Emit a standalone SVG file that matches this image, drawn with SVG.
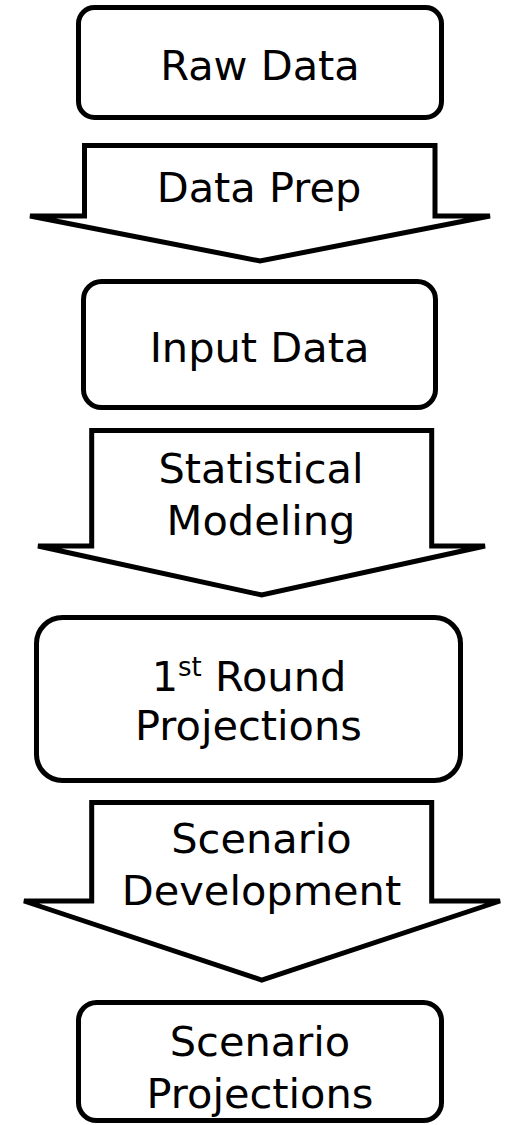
<svg xmlns="http://www.w3.org/2000/svg" width="513" height="1125" viewBox="0 0 513 1125">
<style>
.box{fill:#fff;stroke:#000;stroke-width:5}
.arr{fill:#fff;stroke:#000;stroke-width:5;stroke-linejoin:miter}
text{font-family:"DejaVu Sans",Verdana,sans-serif;font-size:41.5px;fill:#000;text-anchor:middle}
</style>
<rect width="513" height="1125" fill="#fff"/>
<g id="raw-data">
<rect class="box" x="78.5" y="7.5" width="363" height="110" rx="16"/>
<text x="260" y="80">Raw Data</text>
</g>
<g id="connectors">
<g id="data-prep">
<polygon class="arr" points="84.5,145.5 435,145.5 435,216 490,216 260,261 30,216 84.5,216"/>
<text x="259" y="201.7">Data Prep</text>
</g>
<g id="statistical-modeling">
<polygon class="arr" points="91.7,430.5 431.7,430.5 431.7,546 485,546 261.7,595 38,546 91.7,546"/>
<text x="261" y="483.3">Statistical</text>
<text x="261" y="535">Modeling</text>
</g>
<g id="scenario-development">
<polygon class="arr" points="91.7,802.5 431.7,802.5 431.7,901 500,901 261.7,980 24,901 91.7,901"/>
<text x="261.5" y="852.7">Scenario</text>
<text x="261.5" y="905">Development</text>
</g>
</g>
<g id="input-data">
<rect class="box" x="83.5" y="281.5" width="352" height="126" rx="18"/>
<text x="259.5" y="361.7">Input Data</text>
</g>
<g id="first-round-projections">
<rect class="box" x="36.5" y="617.5" width="424" height="163" rx="26"/>
<text x="249" y="690.7">1<tspan font-size="26" dy="-15">st</tspan><tspan dy="15"> Round</tspan></text>
<text x="248.5" y="740">Projections</text>
</g>
<g id="scenario-projections">
<rect class="box" x="78.5" y="1002.5" width="363" height="118" rx="18"/>
<text x="260" y="1056">Scenario</text>
<text x="260" y="1108">Projections</text>
</g>
</svg>
